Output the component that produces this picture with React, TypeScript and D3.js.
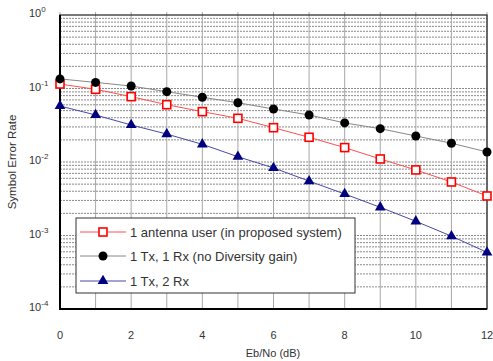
import { useEffect, useRef } from "react";
import * as d3 from "d3";

const snrDb = [0, 1, 2, 3, 4, 5, 6, 7, 8, 9, 10, 11, 12];
const proposed = [0.115, 0.0975, 0.0775, 0.0602, 0.0484, 0.0393, 0.0293, 0.0217, 0.0157, 0.011, 0.0078, 0.00535, 0.00345];
const noDiversity = [0.135, 0.121, 0.108, 0.0905, 0.076, 0.064, 0.0526, 0.0436, 0.034, 0.0284, 0.0226, 0.018, 0.0137];
const twoRx = [0.0578, 0.0436, 0.0319, 0.024, 0.0174, 0.0118, 0.0083, 0.0055, 0.00367, 0.00242, 0.00156, 0.00098, 0.00059];
const xTicks = [0, 2, 4, 6, 8, 10, 12];
const yExponents = [0, -1, -2, -3, -4];
const seriesNames = ["1 antenna user (in proposed system)", "1 Tx, 1 Rx (no Diversity gain)", "1 Tx, 2 Rx"];

const font = "Liberation Sans, Arial, sans-serif";

export default function App() {
  const svgRef = useRef<SVGSVGElement>(null);

  useEffect(() => {
    const svg = d3.select(svgRef.current);
    svg.selectAll("*").remove();

    const left = 60, right = 487, top = 15, bottom = 309;
    const x = d3.scaleLinear().domain([0, 12]).range([left, right]);
    const y = d3.scaleLog().domain([1e-4, 1]).range([bottom, top]);

    // horizontal dashed grid at every log tick
    const minor: number[] = [];
    for (let e = -4; e < 0; e++) for (let m = 1; m < 10; m++) minor.push(m * Math.pow(10, e));
    svg.append("g").selectAll("line").data(minor.filter(v => v > 1e-4)).join("line")
      .attr("x1", left).attr("x2", right)
      .attr("y1", d => y(d)).attr("y2", d => y(d))
      .attr("stroke", "#8a8a8a").attr("stroke-width", 1).attr("stroke-dasharray", "2,1");

    // vertical solid grid
    svg.append("g").selectAll("line").data(snrDb).join("line")
      .attr("x1", d => x(d)).attr("x2", d => x(d))
      .attr("y1", top - 3).attr("y2", bottom)
      .attr("stroke", "#a8a8a8").attr("stroke-width", 1);

    // frame
    svg.append("rect").attr("x", left).attr("y", top).attr("width", right - left).attr("height", bottom - top)
      .attr("fill", "none").attr("stroke", "#222").attr("stroke-width", 1.2);
    svg.append("path").attr("d", `M${left},${top}V${bottom}H${right}`)
      .attr("fill", "none").attr("stroke", "#000").attr("stroke-width", 2);

    // x tick labels
    svg.append("g").selectAll("text").data(xTicks).join("text")
      .attr("x", d => x(d)).attr("y", 339).attr("text-anchor", "middle")
      .attr("font-family", font).attr("font-size", 11).attr("fill", "#333")
      .text(d => d);

    // y tick labels 10^n
    const yl = svg.append("g").selectAll("text").data(yExponents).join("text")
      .attr("x", 29).attr("y", d => y(Math.pow(10, d)) + 2)
      .attr("font-family", font).attr("font-size", 11).attr("fill", "#333");
    yl.append("tspan").text("10");
    yl.append("tspan").attr("dy", -5).attr("font-size", 8).text(d => d);

    svg.append("text").attr("x", 273).attr("y", 357).attr("text-anchor", "middle")
      .attr("font-family", font).attr("font-size", 11).attr("fill", "#333").text("Eb/No (dB)");
    svg.append("text").attr("transform", "translate(16,162) rotate(-90)").attr("text-anchor", "middle")
      .attr("font-family", font).attr("font-size", 11.5).attr("fill", "#333").text("Symbol Error Rate");

    const line = (vals: number[]) => d3.line<number>().x((_, i) => x(snrDb[i])).y(d => y(d))(vals);

    const series = [
      { vals: proposed, lineColor: "#ff5050", marker: "square" },
      { vals: noDiversity, lineColor: "#888888", marker: "circle" },
      { vals: twoRx, lineColor: "#4848a8", marker: "triangle" },
    ];

    const drawMarker = (g: any, kind: string, cx: number, cy: number) => {
      if (kind === "square") {
        g.append("rect").attr("x", cx - 4).attr("y", cy - 4).attr("width", 8).attr("height", 8)
          .attr("fill", "#fff").attr("stroke", "#ff0000").attr("stroke-width", 1.6);
      } else if (kind === "circle") {
        g.append("circle").attr("cx", cx).attr("cy", cy).attr("r", 4.5).attr("fill", "#000");
      } else {
        g.append("path").attr("d", d3.symbol(d3.symbolTriangle, 50)()!)
          .attr("transform", `translate(${cx},${cy})`).attr("fill", "#000080");
      }
    };

    series.forEach(s => {
      svg.append("path").attr("d", line(s.vals)).attr("fill", "none")
        .attr("stroke", s.lineColor).attr("stroke-width", 1);
      const g = svg.append("g");
      s.vals.forEach((v, i) => drawMarker(g, s.marker, x(snrDb[i]), y(v)));
    });

    // legend
    const lg = svg.append("g");
    lg.append("rect").attr("x", 76).attr("y", 218).attr("width", 279).attr("height", 75)
      .attr("fill", "#fff").attr("stroke", "#333").attr("stroke-width", 1);
    const rows = [232, 256, 281];
    series.forEach((s, i) => {
      lg.append("line").attr("x1", 80).attr("x2", 126).attr("y1", rows[i]).attr("y2", rows[i])
        .attr("stroke", s.lineColor).attr("stroke-width", 1);
      drawMarker(lg, s.marker, 103, rows[i]);
      lg.append("text").attr("x", 130).attr("y", rows[i] + 4.5)
        .attr("font-family", font).attr("font-size", 13).attr("fill", "#333").text(seriesNames[i]);
    });
  }, []);

  return <svg ref={svgRef} width={493} height={361} style={{ position: "absolute", left: 0, top: 0, background: "#fff" }} />;
}
